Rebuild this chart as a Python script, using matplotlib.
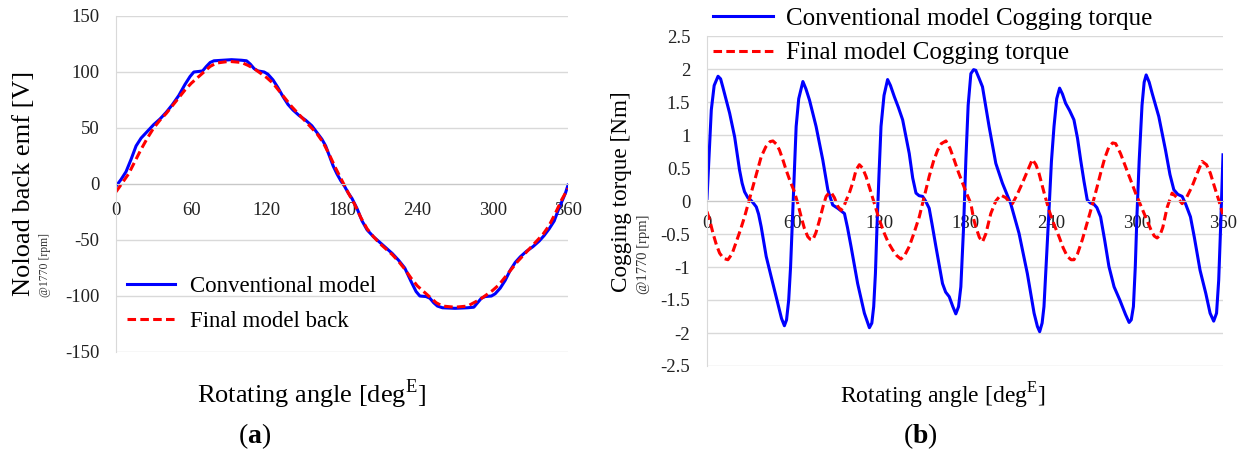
import matplotlib
matplotlib.use("Agg")
import matplotlib.pyplot as plt

plt.rcParams["font.family"] = ["Liberation Serif", "DejaVu Serif"]
plt.rcParams["mathtext.fontset"] = "custom"
plt.rcParams["mathtext.rm"] = "Liberation Serif"
plt.rcParams["mathtext.bf"] = "Liberation Serif:bold"

# (a) no-load back emf [V] vs electrical angle
emf_conv_deg = [0, 4, 8, 12, 16, 20, 25, 30, 35, 40, 45, 50, 55, 59, 62, 66, 69, 72, 75, 78,
                85, 92, 100, 104, 107, 110, 113, 118, 121, 125, 129, 133, 137, 141, 146, 151,
                156, 160, 164, 167, 170, 173, 176, 179, 182, 185, 188, 192, 196, 200, 205, 210,
                215, 220, 225, 230, 235, 239, 242, 247, 250, 253, 256, 260, 270, 280, 285, 288,
                291, 294, 299, 302, 306, 310, 314, 318, 322, 327, 332, 337, 341, 345, 349, 352,
                355, 358, 360]
emf_conv = [-2, 4, 11, 22, 34, 41, 47, 53, 58, 64, 71, 79, 89, 96, 100, 100.5, 101, 105, 108.5, 110,
            110.5, 111, 110.5, 110, 107, 103, 101, 100, 98, 93, 86, 78, 71, 66, 61, 57,
            52, 46, 40, 34, 25, 16, 9, 3, -2, -8, -13, -22, -33, -41, -47, -52,
            -57, -62, -68, -75, -87, -96, -100, -100.5, -102, -106, -109, -110.5, -111, -110.5, -110, -106,
            -102, -100.5, -100, -98, -93, -86, -77, -70, -65, -60, -56, -51, -46, -40, -33, -24,
            -16, -8, -1]

emf_final_deg = [0, 5, 10, 15, 20, 25, 30, 35, 40, 45, 50, 55, 60, 65, 70, 75, 80, 90, 100, 105,
                 110, 115, 120, 125, 130, 135, 140, 145, 150, 155, 160, 165, 170, 175, 180, 185,
                 190, 195, 200, 205, 210, 215, 220, 225, 230, 235, 240, 245, 250, 255, 260, 270,
                 280, 285, 290, 295, 300, 305, 310, 315, 320, 325, 330, 335, 340, 345, 350, 355, 360]
emf_final = [-7, 1, 9, 20, 31, 41, 50, 57, 63, 70, 77, 84, 90, 95, 100, 105, 108, 109.5, 108.5, 106,
             103, 99, 95, 90, 83, 76, 69, 63, 57, 51, 45, 37, 26, 14, 3, -8,
             -18, -30, -40, -47, -53, -58, -63, -69, -76, -84, -91, -96, -101, -106, -109, -110,
             -109, -106, -103, -99, -95, -90, -83, -76, -69, -63, -57, -51, -45, -37, -26, -14, -4]

# (b) cogging torque [Nm] vs electrical angle
cog_conv_deg = [0, 1.5, 3, 5, 7.7, 9.5, 11, 13.5, 15.8, 19.3, 21, 22.7, 24.5, 26.2, 28.5, 30.9, 33,
                34.4, 36, 37.8, 41.3, 44.8, 49.4, 52, 54, 55.5, 57, 58.3, 59.4, 60.8, 62.2, 64,
                66.9, 69, 71.5, 76.1, 80.8, 84.3, 87.7, 91.2, 95.9, 98, 100.5, 105.1, 109.8,
                113.3, 115, 116.3, 117.5, 118.6, 120, 121.4, 123.5, 126, 128, 130.7, 133.5,
                136.5, 141.1, 143.5, 145.8, 148, 150.4, 152.5, 155, 157, 159.7, 164.3, 166.5,
                169, 171.5, 173.6, 175.5, 177.1, 179, 180.6, 182.2, 184.1, 186, 187.5, 190,
                192.2, 196.8, 201.5, 206.1, 211.9, 217.7, 223.5, 228.2, 230.5, 232.1, 233.8,
                235.1, 236.8, 238.6, 240.3, 242.1, 244, 246, 248, 250.2, 253, 256, 258.5, 260.7,
                263, 265.3, 267.5, 270, 272, 274.6, 277.5, 280.4, 284, 288, 292, 294.5, 296,
                297.5, 298.8, 300, 301.5, 303.5, 305, 306.4, 308.5, 310.6, 315.2, 319.9, 323,
                325.7, 328.5, 331.5, 334, 337.3, 340, 344, 348, 351, 353.5, 355.5, 357, 358.5, 360]
cog_conv = [0.04, 0.7, 1.38, 1.75, 1.89, 1.85, 1.73, 1.52, 1.33, 0.97, 0.72, 0.47, 0.27, 0.14, 0.05,
            0.005, -0.05, -0.09, -0.2, -0.39, -0.84, -1.15, -1.55, -1.78, -1.89, -1.8, -1.5, -1.0,
            -0.39, 0.4, 1.13, 1.55, 1.81, 1.7, 1.53, 1.13, 0.62, 0.17, -0.06, -0.11, -0.19, -0.4,
            -0.69, -1.25, -1.70, -1.92, -1.85, -1.60, -1.1, -0.39, 0.4, 1.13, 1.6, 1.84, 1.75,
            1.58, 1.42, 1.23, 0.72, 0.35, 0.12, 0.08, 0.07, 0.0, -0.11, -0.35, -0.69, -1.25,
            -1.38, -1.45, -1.6, -1.71, -1.6, -1.30, -0.4, 0.62, 1.45, 1.93, 1.99, 1.98, 1.85,
            1.73, 1.13, 0.57, 0.27, -0.04, -0.49, -1.10, -1.70, -1.9, -1.98, -1.85, -1.60, -0.9,
            -0.14, 0.6, 1.13, 1.55, 1.71, 1.62, 1.48, 1.37, 1.23, 0.95, 0.62, 0.3, 0.015, -0.03,
            -0.05, -0.1, -0.24, -0.6, -0.99, -1.3, -1.5, -1.72, -1.84, -1.8, -1.6, -1.0, -0.2,
            0.6, 1.45, 1.8, 1.91, 1.8, 1.63, 1.28, 0.77, 0.4, 0.17, 0.1, 0.07, -0.05, -0.24,
            -0.55, -1.05, -1.4, -1.7, -1.82, -1.7, -1.2, -0.3, 0.7]

cog_final_deg = [0, 2, 4.2, 6.5, 8.8, 11.5, 14.6, 17.5, 20.4, 23.3, 26.2, 29, 32, 35, 37.8, 41, 44,
                 46, 48.5, 50.6, 53, 55.2, 58, 61, 63.5, 65.7, 68, 70.3, 72, 73.8, 76, 78.5, 81,
                 83.1, 85, 86.6, 88.9, 91.2, 93.5, 95.5, 97.5, 99.3, 102, 104, 106.3, 108.5, 111,
                 114, 116.8, 120, 123.7, 126.5, 129.5, 132.5, 135.3, 138, 141.1, 144.5, 148.1,
                 151.5, 155, 158, 160.9, 163.5, 166.7, 169.5, 172.5, 175.5, 178.3, 181, 184.1,
                 186, 187.5, 190, 192.2, 194.5, 198, 201.5, 204.9, 208.5, 211, 213.1, 216, 220,
                 223.5, 227, 229.5, 231.6, 235, 238.6, 242, 245.6, 248.5, 251.4, 254, 256, 258.5,
                 261.8, 265, 268.8, 272, 274.6, 277.5, 280.4, 283, 285.1, 288.5, 292, 295.5, 299,
                 302.5, 306, 310, 312, 314, 316, 318, 321, 324.5, 328, 331.5, 334.5, 338.4, 342,
                 345.4, 348.5, 351.2, 354, 357, 359.3, 360]
cog_final = [-0.16, -0.3, -0.49, -0.66, -0.79, -0.87, -0.89, -0.8, -0.62, -0.44, -0.24, -0.02, 0.22,
             0.45, 0.67, 0.82, 0.9, 0.91, 0.86, 0.77, 0.62, 0.47, 0.3, 0.14, -0.05, -0.24, -0.42,
             -0.54, -0.58, -0.59, -0.48, -0.29, -0.08, 0.07, 0.12, 0.13, 0.05, -0.08, -0.14, -0.08,
             0.03, 0.12, 0.3, 0.47, 0.55, 0.5, 0.37, 0.16, -0.04, -0.27, -0.49, -0.63, -0.74,
             -0.83, -0.88, -0.82, -0.69, -0.48, -0.24, 0.06, 0.37, 0.6, 0.77, 0.87, 0.91, 0.8,
             0.62, 0.43, 0.27, 0.12, -0.04, -0.27, -0.39, -0.55, -0.62, -0.5, -0.19, 0.0, 0.09,
             0.05, -0.02, -0.04, 0.08, 0.27, 0.45, 0.63, 0.55, 0.42, 0.14, -0.14, -0.35, -0.54,
             -0.71, -0.84, -0.89, -0.89, -0.8, -0.59, -0.35, -0.06, 0.2, 0.42, 0.65, 0.82, 0.88,
             0.87, 0.72, 0.52, 0.32, 0.12, -0.06, -0.24, -0.45, -0.53, -0.56, -0.52, -0.4, -0.1,
             0.12, 0.05, -0.04, 0.05, 0.22, 0.42, 0.6, 0.55, 0.42, 0.22, 0.015, -0.16, -0.2]

x_ticks = [0, 60, 120, 180, 240, 300, 360]
emf_yticks = [-150, -100, -50, 0, 50, 100, 150]
cog_yticks = [-2.5, -2, -1.5, -1, -0.5, 0, 0.5, 1, 1.5, 2, 2.5]

BLUE = "#0000ff"
RED = "#ff0000"
GRID = "#d9d9d9"
LW = 2.2
DASH = (0, (2.8, 1.4))


def _style_axes(ax, yticks, xpad, ypad, fmt):
    ax.set_xlim(0, 360)
    ax.set_ylim(yticks[0], yticks[-1])
    ax.set_xticks(x_ticks)
    ax.set_yticks(yticks)
    ax.set_yticklabels([fmt(v) for v in yticks])
    ax.tick_params(length=0, labelsize=13.5, colors="#222222")
    ax.tick_params(axis="x", pad=xpad)
    ax.tick_params(axis="y", pad=ypad)
    ax.yaxis.grid(True, color=GRID, linewidth=1.0)
    ax.set_axisbelow(True)
    for side in ("top", "right"):
        ax.spines[side].set_visible(False)
    ax.spines["left"].set_color(GRID)
    ax.spines["bottom"].set_position(("data", 0))
    ax.spines["bottom"].set_color("#c8c8c8")


fig = plt.figure(figsize=(12.43, 4.53), dpi=100)

# ---- (a) back emf
ax1 = fig.add_axes([116 / 1243, 1 - 352 / 453, 452 / 1243, 336 / 453])
_style_axes(ax1, emf_yticks, 13, 12, lambda v: f"{v:d}")
ax1.plot(emf_conv_deg, emf_conv, color=BLUE, lw=LW, label="Conventional model")
ax1.plot(emf_final_deg, emf_final, color=RED, lw=LW, linestyle=DASH, label="Final model back")
ax1.legend(loc="upper left", bbox_to_anchor=(127 / 1243, 1 - 276 / 453),
           bbox_transform=fig.transFigure, frameon=False, fontsize=16.5,
           handlelength=2.1, handletextpad=0.65, labelspacing=0.6, borderaxespad=0, borderpad=0)

fig.text(24 / 1243, 1 - 183 / 453, "Noload back emf [V]", rotation=90, fontsize=19,
         ha="center", va="center")
fig.text(45 / 1243, 1 - 265 / 453, "@1770 [rpm]", rotation=90, fontsize=8.5,
         ha="center", va="center", color="#333333")
fig.text(312 / 1243, 1 - 394 / 453, r"Rotating angle [deg$^{\mathrm{E}}$]", fontsize=19,
         ha="center", va="center")
fig.text(255 / 1243, 1 - 436 / 453, r"($\mathbf{a}$)", fontsize=20, ha="center", va="center")

# ---- (b) cogging torque
ax2 = fig.add_axes([707 / 1243, 1 - 366 / 453, 516 / 1243, 330 / 453])
_style_axes(ax2, cog_yticks, 10, 12, lambda v: f"{v:g}")
ax2.plot(cog_conv_deg, cog_conv, color=BLUE, lw=LW, label="Conventional model Cogging torque")
ax2.plot(cog_final_deg, cog_final, color=RED, lw=LW, linestyle=DASH,
         label="Final model Cogging torque")
ax2.legend(loc="upper left", bbox_to_anchor=(713 / 1243, 1 - 7 / 453),
           bbox_transform=fig.transFigure, frameon=False, fontsize=18,
           handlelength=2.4, handletextpad=0.5, labelspacing=0.5, borderaxespad=0, borderpad=0)

fig.text(622 / 1243, 1 - 192 / 453, "Cogging torque [Nm]", rotation=90, fontsize=16.7,
         ha="center", va="center")
fig.text(644 / 1243, 1 - 254 / 453, "@1770 [rpm]", rotation=90, fontsize=10.5,
         ha="center", va="center", color="#333333")
fig.text(943 / 1243, 1 - 396 / 453, r"Rotating angle [deg$^{\mathrm{E}}$]", fontsize=17,
         ha="center", va="center")
fig.text(920 / 1243, 1 - 436 / 453, r"($\mathbf{b}$)", fontsize=20, ha="center", va="center")

fig.savefig("out.png", dpi=100)
